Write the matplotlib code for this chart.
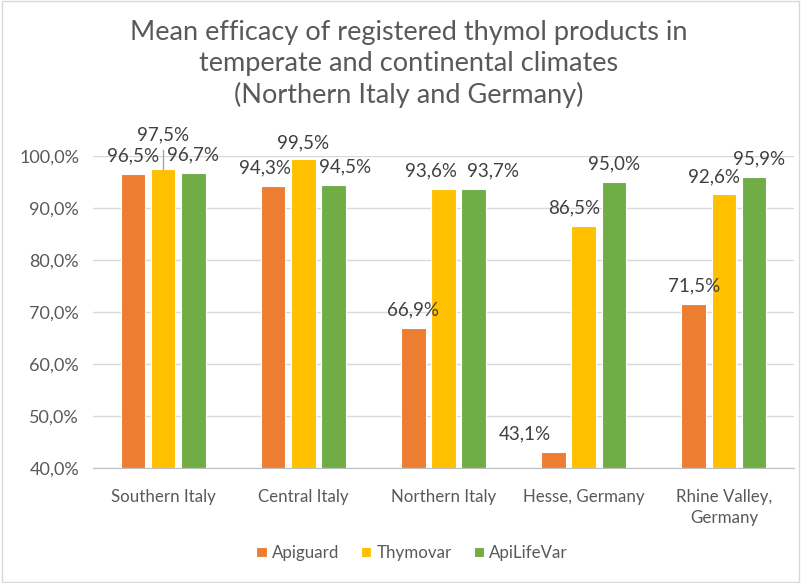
import numpy as np
import matplotlib.pyplot as plt
from matplotlib.patches import Rectangle

regions = ["Southern Italy", "Central Italy", "Northern Italy", "Hesse, Germany", "Rhine Valley,\nGermany"]
products = ["Apiguard", "Thymovar", "ApiLifeVar"]
apiguard = [96.5, 94.3, 66.9, 43.1, 71.5]
thymovar = [97.5, 99.5, 93.6, 86.5, 92.6]
apilifevar = [96.7, 94.5, 93.7, 95.0, 95.9]
y_ticks = [40, 50, 60, 70, 80, 90, 100]

colors = ["#ED7D31", "#FFC000", "#70AD47"]
# label nudges in pixels keyed (region, series): (dx, extra dy)
nudges = {
    (0, 1): (0, 16),
    (1, 0): (-8, 0), (1, 1): (0, -2), (1, 2): (12, 0),
    (2, 1): (-13, 0), (2, 2): (19, 0),
    (3, 0): (-29, 0), (3, 1): (-10, 0),
    (4, 1): (-10, 0), (4, 2): (5, 0),
}

plt.rcParams["font.family"] = ["Lato", "DejaVu Sans"]
fig = plt.figure(figsize=(8.1, 5.83), dpi=100)
ax = fig.add_axes([93 / 810, 1 - 468 / 583, 701 / 810, 312 / 583])

x = np.arange(len(regions))
width = 0.175
step = 0.215
series = [apiguard, thymovar, apilifevar]
px = 72 / 100  # points per pixel
unit = 60 / 312  # data units per pixel

for i, (vals, name, col) in enumerate(zip(series, products, colors)):
    pos = x + (i - 1) * step
    ax.bar(pos, np.array(vals) - 40, width, bottom=40, color=col, edgecolor="white",
           linewidth=0.8, label=name, zorder=3)
    for j, v in enumerate(vals):
        dx, dy = nudges.get((j, i), (0, 0))
        ax.annotate(f"{v:.1f}%".replace(".", ","), (pos[j], v),
                    xytext=(dx * px, (18 + dy) * px), textcoords="offset points",
                    ha="center", va="center", fontsize=13.5, color="#404040",
                    annotation_clip=False, zorder=4)
        if dy > 5:
            # leader line from raised label down to the bar
            ax.plot([pos[j], pos[j]], [v, v + 19 * unit], color="#A6A6A6",
                    linewidth=1, clip_on=False, zorder=4)

ax.set_ylim(40, 100)
ax.set_xlim(-0.5, len(regions) - 0.5)
ax.set_yticks(y_ticks)
ax.set_yticklabels([f"{t:.1f}%".replace(".", ",") for t in y_ticks], fontsize=13)
ax.set_xticks(x)
ax.set_xticklabels(regions, linespacing=1.4, fontsize=12.2)
ax.tick_params(axis="both", length=0, colors="#595959")
ax.tick_params(axis="x", pad=15)
ax.tick_params(axis="y", pad=10)
ax.grid(axis="y", color="#D9D9D9", linewidth=1, zorder=0)
for s in ["top", "right", "left"]:
    ax.spines[s].set_visible(False)
ax.spines["bottom"].set_color("#BFBFBF")
ax.spines["bottom"].set_zorder(5)

fig.text(0.505, 1 - 64 / 583,
         "Mean efficacy of registered thymol products in\ntemperate and continental climates\n(Northern Italy and Germany)",
         ha="center", va="center", fontsize=19.5, color="#595959", linespacing=1.3)

fig.legend(loc="center", bbox_to_anchor=(412 / 810, 1 - 553 / 583), ncol=3,
           frameon=False, fontsize=12.2, handlelength=0.6, handleheight=0.6,
           handletextpad=0.3, columnspacing=1.3, labelcolor="#595959")

fig.patches.append(Rectangle((0.002, 0.002), 0.985, 0.996, transform=fig.transFigure,
                             fill=False, edgecolor="#D9D9D9", linewidth=1))

fig.savefig("out.png", dpi=100)
